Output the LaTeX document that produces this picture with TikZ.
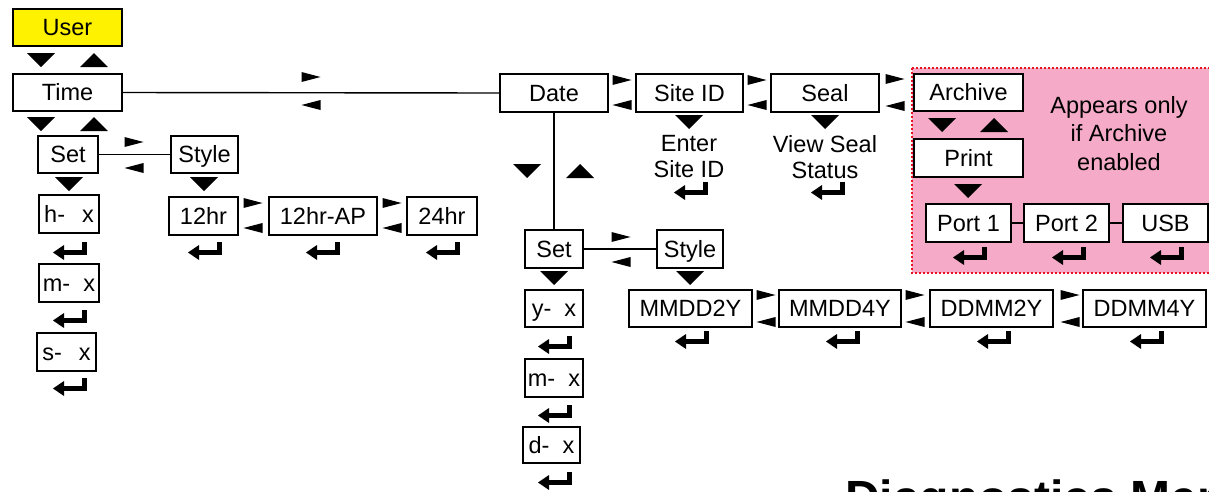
\documentclass[tikz,border=0pt]{standalone}
\usepackage{fontspec}
\setmainfont{Liberation Sans}
\definecolor{uyellow}{RGB}{255,242,0}
\definecolor{upink}{RGB}{245,170,200}
\definecolor{ured}{RGB}{230,20,30}
\newcommand\bx[7][]{\node[box, #1, minimum width={#5-#3}, minimum height={#6-#4}] (#2) at ({(#3+#5)/2},{(#4+#6)/2}) {#7};}
\tikzset{
  box/.style={draw, line width=1.6pt, fill=white, inner sep=0pt, text height=16pt, text depth=0pt, font=\fontsize{23.5}{27}\selectfont},
  lbl/.style={align=center, inner sep=0pt},
  conn/.style={line width=1.4pt},
  pics/dn/.style={code={\fill (-14,-7) -- (14,-7) -- (0,7) -- cycle;}},
  pics/up/.style={code={\fill (-14,7) -- (14,7) -- (0,-7) -- cycle;}},
  pics/rt/.style={code={\fill (-9.5,-5) -- (-9.5,5) -- (9.5,0) -- cycle;}},
  pics/lf/.style={code={\fill (9.5,-5) -- (9.5,5) -- (-9.5,0) -- cycle;}},
  pics/ret/.style={code={
    \fill (12,-9) rectangle (17,4.3);
    \fill (-6,-1.3) rectangle (17,4.3);
    \fill (-6,-6) -- (-6,9) -- (-17,1.5) -- cycle;}},
}
\begin{document}
\begin{tikzpicture}[x=1pt,y=-1pt]
\useasboundingbox (0,0) rectangle (1209,491);
\clip (0,0) rectangle (1209,491);
% pink region
\path[fill=upink, draw=ured, line width=2pt, dotted] (912,68) rectangle (1240,273);
% Time branch
\bx[fill=uyellow]{user}{13}{9}{122}{46}{User}
\bx{time}{13}{74}{122}{111}{Time}
\bx{tset}{38}{136}{98}{173}{Set}
\bx{tstyle}{171}{136}{238}{173}{Style}
\bx{hx}{39}{195}{99}{233}{h-\ \ \,x}
\bx{mx}{39}{264}{99}{302}{m-\ \ x}
\bx{sx}{37}{333}{96}{371}{s-\ \ \,x}
\bx{h12}{169}{197}{238}{235}{12hr}
\bx{h12ap}{269}{197}{377}{235}{12hr-AP}
\bx{h24}{407}{197}{477}{235}{24hr}
% Date branch
\bx{date}{500}{74}{608}{112}{Date}
\bx{site}{636}{74}{743}{112}{Site ID}
\bx{seal}{771}{74}{879}{112}{Seal}
\bx{dset}{525}{230}{583}{268}{Set}
\bx{dstyle}{657}{230}{723}{268}{Style}
\bx{yx}{525}{290}{583}{327}{y-\ \ x}
\bx{dmx}{525}{359}{583}{397}{m-\ \ x}
\bx{dx}{523}{427}{580}{463}{d-\ \ x}
\bx{mmdd2}{629}{290}{752}{327}{MMDD2Y}
\bx{mmdd4}{779}{290}{901}{327}{MMDD4Y}
\bx{ddmm2}{930}{290}{1053}{327}{DDMM2Y}
\bx{ddmm4}{1083}{290}{1206}{327}{DDMM4Y}
% Archive
\bx{archive}{914}{74}{1023}{111}{Archive}
\bx{print}{914}{139}{1023}{177}{Print}
\bx{port1}{926}{204}{1011}{242}{Port 1}
\bx{port2}{1024}{204}{1109}{242}{Port 2}
\bx{usb}{1123}{204}{1208}{242}{USB}
% texts
\node[lbl, font=\fontsize{23.5}{26}\selectfont] (enter) at (689,157) {Enter\\Site ID};
\node[lbl, font=\fontsize{23.5}{26}\selectfont] (view) at (825,157) {View Seal\\Status};
\node[lbl, font=\fontsize{23.5}{28.5}\selectfont] (appears) at (1119,133.5) {Appears only\\if Archive\\enabled};
\node[anchor=base west, inner sep=0pt, font=\bfseries\fontsize{48}{50}\selectfont] (diag) at (845,514) {Diagnostics Menu};
% connectors
\draw[conn] (time.east) -- (date.west);
\draw[conn] (tset.east) -- (tstyle.west);
\draw[conn] (date.south) -- (dset.north);
\draw[conn] (dset.east) -- (dstyle.west);
\draw[conn] (port1.east) -- (port2.west);
\draw[conn] (port2.east) -- (usb.west);
% triangles
\pic at (41,60) {dn}; \pic at (94,60) {up};
\pic at (41,124) {dn}; \pic at (94,124) {up};
\pic at (311,77) {rt}; \pic at (311,105) {lf};
\pic at (134,142) {rt}; \pic at (134,168) {lf};
\pic at (69,184) {dn}; \pic at (204,184) {dn};
\pic at (253,203) {rt}; \pic at (253,228) {lf};
\pic at (392,203) {rt}; \pic at (392,228) {lf};
\pic at (622,80) {rt}; \pic at (622,105) {lf};
\pic at (757,80) {rt}; \pic at (757,105) {lf};
\pic at (895,79) {rt}; \pic at (895,106) {lf};
\pic at (689,122) {dn}; \pic at (825,122) {dn};
\pic at (527,171) {dn}; \pic at (580,171) {up};
\pic at (621,237) {rt}; \pic at (621,262) {lf};
\pic at (554,278) {dn}; \pic at (690,278) {dn};
\pic at (766,295) {rt}; \pic at (766,322) {lf};
\pic at (915,295) {rt}; \pic at (915,322) {lf};
\pic at (1070,295) {rt}; \pic at (1070,322) {lf};
\pic at (942,125) {dn}; \pic at (994,125) {up};
\pic at (968,191) {dn};
% return symbols
\pic at (70,251) {ret}; \pic at (70,319) {ret}; \pic at (70,387) {ret};
\pic at (205,251) {ret}; \pic at (323,251) {ret}; \pic at (443,251) {ret};
\pic at (691,191) {ret}; \pic at (828,191) {ret};
\pic at (555,345) {ret}; \pic at (555,414) {ret}; \pic at (555,481) {ret};
\pic at (692,340) {ret}; \pic at (843,340) {ret}; \pic at (994,340) {ret}; \pic at (1147,340) {ret};
\pic at (970,256) {ret}; \pic at (1069,256) {ret}; \pic at (1167,256) {ret};
\end{tikzpicture}
\end{document}
